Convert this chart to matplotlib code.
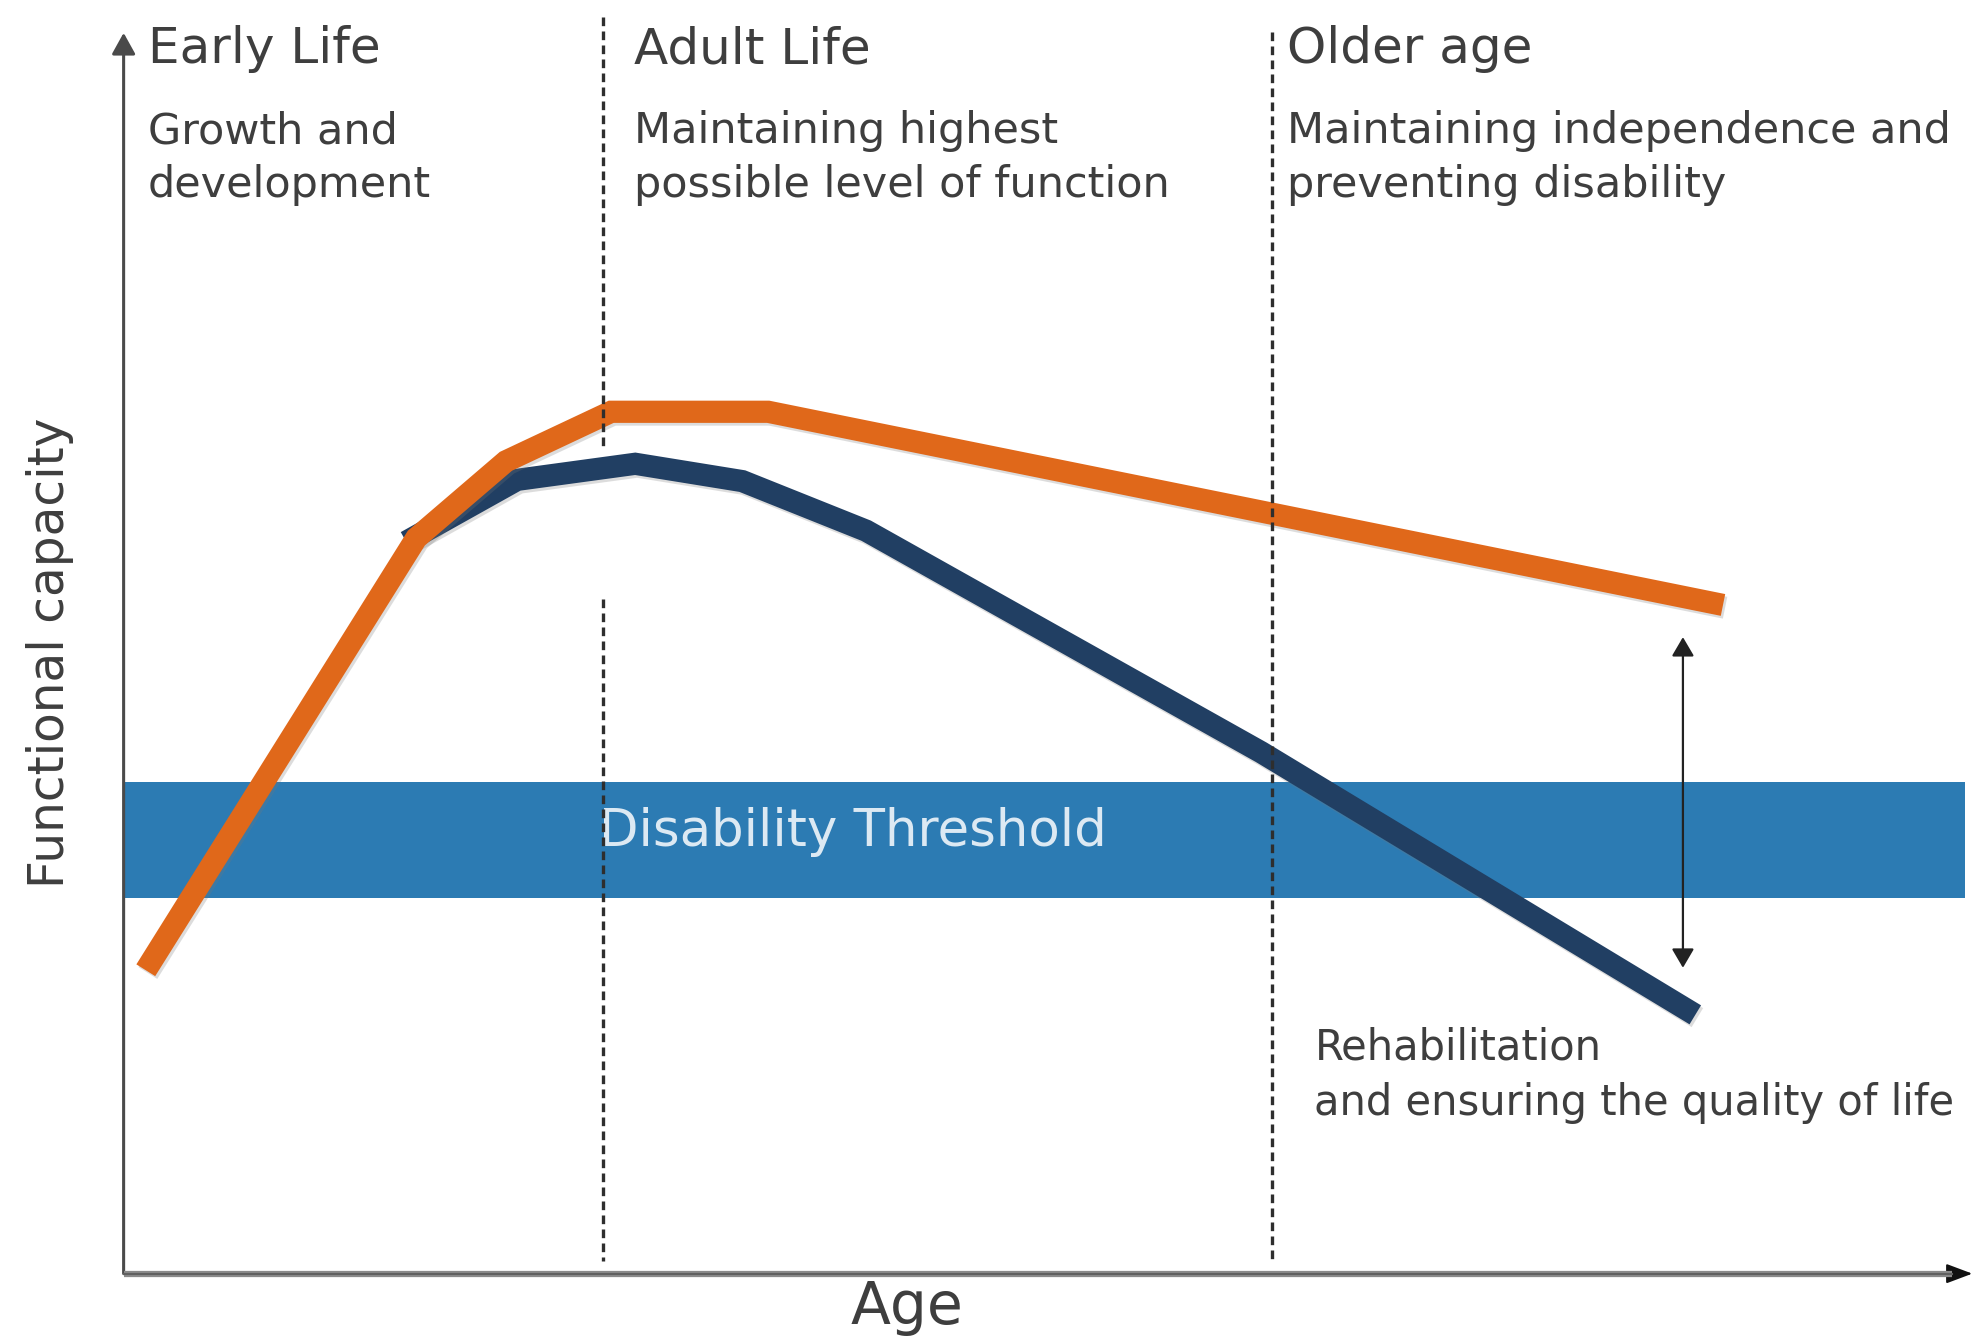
import matplotlib.pyplot as plt
import matplotlib.patheffects as pe

# life-course functional capacity: orange = maintained, navy = declining
orange_age = [1.2, 15.85, 20.7, 26.4, 34.9, 86.6]
orange_cap = [24.5, 59.4, 65.6, 69.6, 69.6, 54.0]
navy_age = [15.3, 21.3, 27.7, 33.5, 40.2, 61.6, 85.1]
navy_cap = [59.1, 64.1, 65.4, 64.0, 60.0, 42.1, 20.9]

threshold_low, threshold_high = 30.3, 39.7
stage_bounds = [25.96, 62.16]
stage_titles = ['Early Life', 'Adult Life', 'Older age']
stage_x = [1.3, 27.66, 62.98]
stage_notes = [['Growth and', 'development'],
               ['Maintaining highest', 'possible level of function'],
               ['Maintaining independence and', 'preventing disability']]
gap_age = 84.43
gap_top, gap_bottom = 51.4, 24.7

ORANGE = '#e0681a'
NAVY = '#213f63'
BAND = '#2c7bb3'
TEXT = '#3e3e3e'

fig = plt.figure(figsize=(19.78, 13.38), dpi=100)
ax = fig.add_axes([0.0625, 0.0481, 0.9337, 0.9255])
ax.set_xlim(0, 100)
ax.set_ylim(0, 100)
ax.axis('off')

# disability threshold band
ax.axhspan(threshold_low, threshold_high, xmin=0, xmax=0.997, color=BAND, zorder=1, lw=0)
ax.text(25.75, 34.5, 'Disability Threshold', color='#dce9f3', fontsize=37,
        va='baseline', ha='left', zorder=2)

# curves, with a soft drop shadow
shadow = [pe.SimpleLineShadow(offset=(1.5, -2), shadow_color='#777777', alpha=0.25),
          pe.Normal()]
ax.plot(navy_age, navy_cap, color=NAVY, lw=16, solid_joinstyle='miter',
        solid_capstyle='butt', zorder=3, path_effects=shadow)
ax.plot(orange_age, orange_cap, color=ORANGE, lw=16, solid_joinstyle='miter',
        solid_capstyle='butt', zorder=4, path_effects=shadow)

# stage boundaries
dash = dict(color='#2e2e2e', lw=2.4, dashes=(2.6, 1.6), clip_on=False, zorder=5)
ax.plot([stage_bounds[0]] * 2, [101.5, 66.7], **dash)
ax.plot([stage_bounds[0]] * 2, [54.5, 1.0], **dash)
ax.plot([stage_bounds[1]] * 2, [100.3, 1.0], **dash)

# stage headings and notes
for x, title, notes in zip(stage_x, stage_titles, stage_notes):
    ax.text(x, 97.76, title, fontsize=36, color=TEXT, va='baseline', ha='left')
    ax.text(x, 91.28, notes[0], fontsize=31, color=TEXT, va='baseline', ha='left')
    ax.text(x, 86.97, notes[1], fontsize=31, color=TEXT, va='baseline', ha='left')

ax.text(64.48, 17.31, 'Rehabilitation', fontsize=30, color=TEXT, va='baseline')
ax.text(64.48, 12.78, 'and ensuring the quality of life', fontsize=30, color=TEXT,
        va='baseline')

# gap between the two trajectories
ax.annotate('', xy=(gap_age, gap_top), xytext=(gap_age, gap_bottom),
            arrowprops=dict(arrowstyle='<|-|>,head_length=0.58,head_width=0.34',
                            color='#222222', lw=1.6, shrinkA=0, shrinkB=0,
                            mutation_scale=20))

# axes with arrow heads
ax.plot([0, 99], [0, 0], color='#8a8a8a', lw=4.5, clip_on=False, zorder=6,
        solid_capstyle='butt')
ax.plot([0, 99], [0, 0], color='#606060', lw=1.5, clip_on=False, zorder=6)
ax.annotate('', xy=(100.1, 0), xytext=(98, 0), annotation_clip=False,
            arrowprops=dict(arrowstyle='-|>,head_length=0.8,head_width=0.3',
                            color='#111111', lw=1.5, shrinkA=0, shrinkB=0,
                            mutation_scale=20))
ax.annotate('', xy=(0, 100.2), xytext=(0, 0), annotation_clip=False,
            arrowprops=dict(arrowstyle='-|>,head_length=0.65,head_width=0.36',
                            color='#4a4a4a', lw=2.2, shrinkA=0, shrinkB=0,
                            mutation_scale=20))

ax.text(42.4, -4.07, 'Age', fontsize=42, color=TEXT, ha='center', va='baseline')
ax.text(-3.96, 50.1, 'Functional capacity', fontsize=35, color=TEXT, rotation=90,
        ha='center', va='center')

fig.savefig('out.png', dpi=100, facecolor='white')
